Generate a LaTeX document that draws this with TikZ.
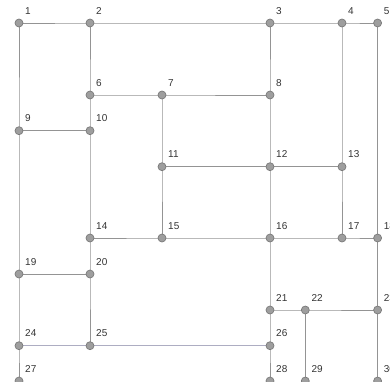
\documentclass[tikz,border=0pt]{standalone}
\usepackage{fontspec}
\setmainfont{Liberation Sans}
\begin{document}
\begin{tikzpicture}[x=1pt,y=-1pt,
  vtx/.style={circle,draw=black!52,fill=black!38,line width=0.7pt,minimum size=8pt,inner sep=0pt},
  edge/.style={draw=black!42,line width=1pt},
  edgeb/.style={draw=blue!25!black!32,line width=1pt},
  lbl/.style={anchor=base west,font=\fontsize{10}{12}\selectfont,text=black!80,inner sep=0pt}]
\useasboundingbox (0,0) rectangle (390,381);
\def\xa{19}\def\xb{90}\def\xc{162}\def\xd{270}\def\xe{305.3}\def\xf{342}\def\xg{377.6}
\def\ya{23}\def\yb{95}\def\yc{130.7}\def\yd{166.7}\def\ye{238}\def\yf{274}\def\yg{310}\def\yh{345.7}\def\yi{381}
\foreach \n/\x/\y in {1/\xa/\ya,2/\xb/\ya,3/\xd/\ya,4/\xf/\ya,5/\xg/\ya,
  6/\xb/\yb,7/\xc/\yb,8/\xd/\yb,
  9/\xa/\yc,10/\xb/\yc,
  11/\xc/\yd,12/\xd/\yd,13/\xf/\yd,
  14/\xb/\ye,15/\xc/\ye,16/\xd/\ye,17/\xf/\ye,18/\xg/\ye,
  19/\xa/\yf,20/\xb/\yf,
  21/\xd/\yg,22/\xe/\yg,23/\xg/\yg,
  24/\xa/\yh,25/\xb/\yh,26/\xd/\yh,
  27/\xa/\yi,28/\xd/\yi,29/\xe/\yi,30/\xg/\yi}{
  \coordinate (c\n) at (\x,\y);
}
\draw[edge] (c1)--(c2)--(c3)--(c4)--(c5);
\draw[edge] (c1)--(c9)--(c19)--(c24)--(c27);
\draw[edge] (c2)--(c6)--(c10)--(c14)--(c20)--(c25);
\draw[edge] (c9)--(c10);
\draw[edge] (c6)--(c7)--(c8);
\draw[edge] (c3)--(c8)--(c12)--(c16)--(c21)--(c26)--(c28);
\draw[edge] (c7)--(c11)--(c15);
\draw[edge] (c11)--(c12)--(c13);
\draw[edge] (c4)--(c13)--(c17);
\draw[edge] (c5)--(c18)--(c23)--(c30);
\draw[edge] (c14)--(c15)--(c16)--(c17)--(c18);
\draw[edge] (c19)--(c20);
\draw[edge] (c21)--(c22)--(c23);
\draw[edge] (c22)--(c29);
\draw[edgeb] (c24)--(c25)--(c26);
\foreach \n in {1,...,30}{
  \node[vtx] (v\n) at (c\n) {};
  \node[lbl] (l\n) at ([xshift=6pt,yshift=9pt]c\n) {\n};
}
\end{tikzpicture}
\end{document}
